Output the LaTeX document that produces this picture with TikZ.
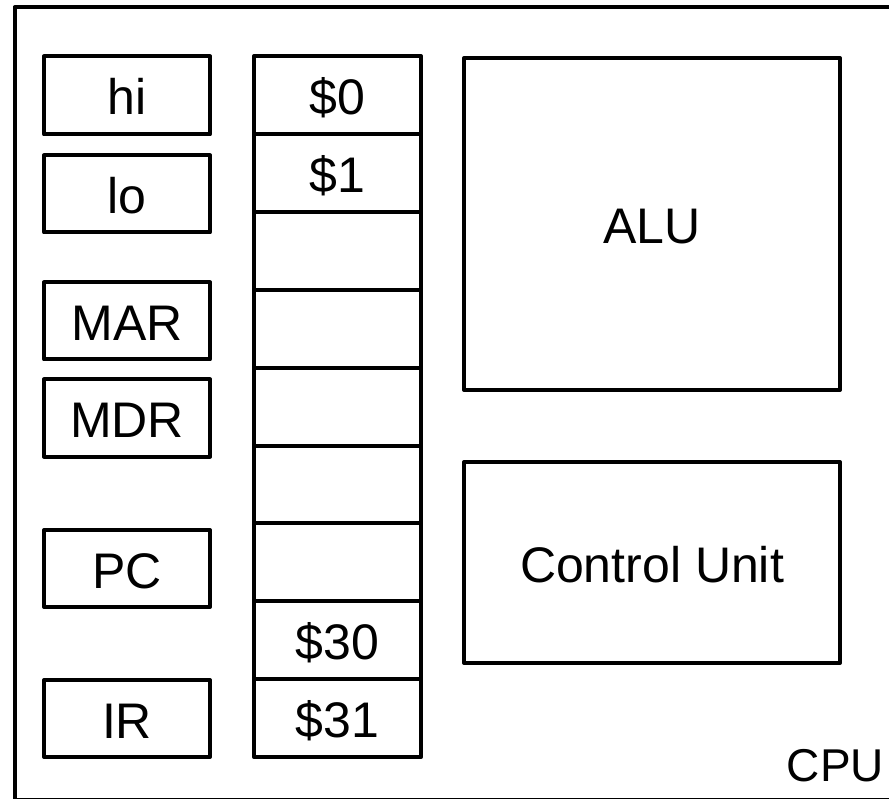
\documentclass[tikz,border=0pt]{standalone}
\usepackage{fontspec}
\setmainfont{Liberation Sans}
\begin{document}
\begin{tikzpicture}[x=1pt,y=-1pt,line width=4pt,line join=round,
  box/.style={draw,inner sep=0pt,outer sep=0pt,text height=39pt,text depth=0pt,
    font=\fontsize{50}{60}\selectfont},
  lbox/.style={box,minimum width=166pt,minimum height=77pt},
  rcell/.style={box,minimum width=167pt,minimum height=77.9pt},
  unit/.style={box,minimum width=376pt}]
\useasboundingbox (0,0) rectangle (889,799);
\begin{scope}
  \clip (0,0) rectangle (889,799);
  \draw (14.5,7.5) rectangle (900,800);
\end{scope}
% left registers
\node[lbox,minimum height=78pt] (hi)  at (127,95.5) {hi};
\node[lbox] (lo)  at (127,194)   {lo};
\node[lbox] (mar) at (127,321)   {MAR};
\node[lbox] (mdr) at (127,418)   {MDR};
\node[lbox] (pc)  at (127,568.5) {PC};
\node[lbox] (ir)  at (127,718.5) {IR};
% register file
\node[rcell] (r0)  at (337.5,94.95)  {\$0};
\node[rcell] (r1)  at (337.5,172.85) {\$1};
\node[rcell] (r2)  at (337.5,250.75) {};
\node[rcell] (r3)  at (337.5,328.65) {};
\node[rcell] (r4)  at (337.5,406.55) {};
\node[rcell] (r5)  at (337.5,484.45) {};
\node[rcell] (r6)  at (337.5,562.35) {};
\node[rcell] (r30) at (337.5,640.25) {\$30};
\node[rcell] (r31) at (337.5,718.15) {\$31};
% units
\node[unit,minimum height=332pt] (alu) at (652,224)   {ALU};
\node[unit,minimum height=201pt] (cu)  at (652,562.5) {Control Unit};
% label
\node[anchor=base east,inner sep=0pt,font=\fontsize{46}{55}\selectfont] (cpu) at (886,781) {CPU};
\end{tikzpicture}
\end{document}
